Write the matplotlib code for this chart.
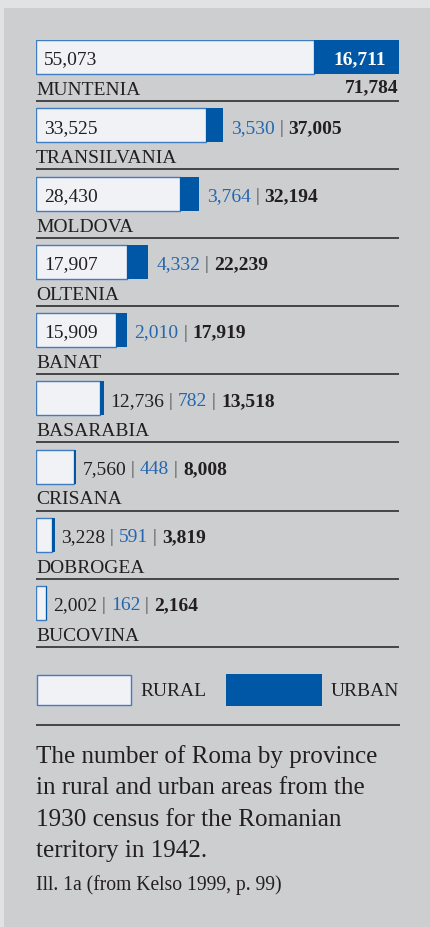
import matplotlib
matplotlib.use("Agg")
import matplotlib.pyplot as plt
from matplotlib.patches import Rectangle

# ---- data ----
provinces = ["MUNTENIA", "TRANSILVANIA", "MOLDOVA", "OLTENIA", "BANAT",
             "BASARABIA", "CRISANA", "DOBROGEA", "BUCOVINA"]
rural = [55073, 33525, 28430, 17907, 15909, 12736, 7560, 3228, 2002]
urban = [16711, 3530, 3764, 4332, 2010, 782, 448, 591, 162]
total = [71784, 37005, 32194, 22239, 17919, 13518, 8008, 3819, 2164]
legend_labels = ["RURAL", "URBAN"]
caption = ("The number of Roma by province\nin rural and urban areas from the\n"
           "1930 census for the Romanian\nterritory in 1942.")
source = "Ill. 1a (from Kelso 1999, p. 99)"

# ---- style ----
W, H, DPI = 430, 927, 100
OUTER = "#e1e2e4"
PANEL = "#cdced0"
RURAL_FC = "#f1f2f5"
RURAL_EC = "#3f7cc2"
URBAN_C = "#0057a6"
BLUE_TXT = "#2467b0"
DARK = "#231f20"
SEP = "#3a3a3a"
FONT = "Liberation Serif"
plt.rcParams["font.family"] = [FONT, "DejaVu Serif"]

fig = plt.figure(figsize=(W / DPI, H / DPI), dpi=DPI, facecolor=OUTER)

# background panel (figure-pixel axes)
bg = fig.add_axes([0, 0, 1, 1])
bg.set_xlim(0, W)
bg.set_ylim(H, 0)
bg.axis("off")
bg.add_patch(Rectangle((4, 8), W - 4, H - 8, facecolor=PANEL, edgecolor="none"))

# bar axes
pitch = 68.25
top0 = 40
n = len(provinces)
ax_left, ax_w = 36, 363
ax_top, ax_h = top0, n * pitch
ax = fig.add_axes([ax_left / W, 1 - (ax_top + ax_h) / H, ax_w / W, ax_h / H])
ax.set_xlim(0, max(total))
ax.set_ylim(n, 0)
ax.axis("off")
ax.patch.set_alpha(0)

bar_h = 34 / pitch
ys = list(range(n))
ax.barh(ys, rural, height=bar_h, align="edge", color=RURAL_FC,
        edgecolor=RURAL_EC, linewidth=1.0)
ax.barh(ys, urban, left=rural, height=bar_h, align="edge", color=URBAN_C,
        edgecolor="none", linewidth=0)

fs_num = 14
fs_lab = 14
sep_y = 61 / pitch
lab_y = 55 / pitch
num_y = 24.5 / pitch

def chain(start_artist, pieces):
    prev = start_artist
    for txt, color, weight in pieces:
        prev = ax.annotate(txt, xy=(1, 0), xycoords=prev, xytext=(0, 0),
                           textcoords="offset pixels", ha="left", va="bottom",
                           fontsize=fs_num, color=color, fontweight=weight,
                           family=FONT)
    return prev

for i, (p, r, u, t) in enumerate(zip(provinces, rural, urban, total)):
    # province label + separator
    ax.text(0, i + lab_y, p, fontsize=fs_lab, color=DARK, ha="left",
            va="baseline", family=FONT)
    ax.hlines(i + sep_y, 0, max(total), color=SEP, linewidth=1.3, clip_on=False)
    fr = f"{r:,}"
    fu = f"{u:,}"
    ft = f"{t:,}"
    if i == 0:
        ax.annotate(fr, xy=(0, i + num_y), xytext=(8, 0), textcoords="offset pixels",
                    ha="left", va="baseline", fontsize=fs_num, color=DARK)
        ax.annotate(fu, xy=(t, i + num_y), xytext=(-13, 0), textcoords="offset pixels",
                    ha="right", va="baseline", fontsize=fs_num, color="white",
                    fontweight="bold")
        ax.text(t, i + 52 / pitch, ft, ha="right", va="baseline", fontsize=fs_num,
                color=DARK, fontweight="bold")
    elif r > 15000:
        ax.annotate(fr, xy=(0, i + num_y), xytext=(8, 0), textcoords="offset pixels",
                    ha="left", va="baseline", fontsize=fs_num, color=DARK)
        a = ax.annotate(fu, xy=(t, i + num_y), xytext=(8, 0), textcoords="offset pixels",
                        ha="left", va="baseline", fontsize=fs_num, color=BLUE_TXT)
        chain(a, [(" | ", "#555555", "normal"), (ft, DARK, "bold")])
    else:
        a = ax.annotate(fr, xy=(t, i + num_y), xytext=(6, 0), textcoords="offset pixels",
                        ha="left", va="baseline", fontsize=fs_num, color=DARK)
        chain(a, [(" | ", "#555555", "normal"), (fu, BLUE_TXT, "normal"),
                  (" | ", "#555555", "normal"), (ft, DARK, "bold")])

# legend
bg.add_patch(Rectangle((36.5, 674.5), 94.5, 30.5, facecolor=RURAL_FC,
                       edgecolor=RURAL_EC, linewidth=1.0))
bg.add_patch(Rectangle((226, 674), 96, 31.5, facecolor=URBAN_C, edgecolor="none"))
bg.text(140, 696, legend_labels[0], fontsize=fs_lab, color=DARK, va="baseline",
        ha="left")
bg.text(331, 696, legend_labels[1], fontsize=fs_lab, color=DARK, va="baseline",
        ha="left")
bg.hlines(725, 36, 400, color=SEP, linewidth=1.3)

# caption
lines = caption.split("\n")
for k, line in enumerate(lines):
    bg.text(36, 763 + k * 31.3, line, fontsize=18.1, color=DARK, va="baseline",
            ha="left")
bg.text(36, 890, source, fontsize=14.1, color=DARK, va="baseline", ha="left")

fig.savefig("out.png", dpi=DPI, facecolor=OUTER)
